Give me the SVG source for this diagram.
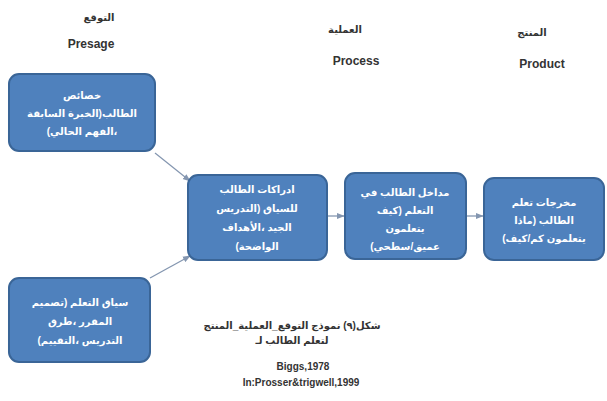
<svg xmlns="http://www.w3.org/2000/svg" width="607" height="401" viewBox="0 0 607 401">
<defs>
<style>
.box{fill:#4f81bd;stroke:#3a6597;stroke-width:2}
.bt{fill:#ffffff;font-family:"Liberation Sans","DejaVu Sans",sans-serif;font-size:10px;font-weight:bold;text-anchor:middle;direction:rtl}
.hd{fill:#333333;font-family:"Liberation Sans","DejaVu Sans",sans-serif;font-size:10px;font-weight:bold;text-anchor:middle}
.he{font-size:12px}
.ar{direction:rtl}
.cn{stroke:#8496b0;stroke-width:1.3;fill:none;marker-end:url(#ah)}
</style>
<marker id="ah" viewBox="0 0 10 10" refX="9" refY="5" markerWidth="6" markerHeight="6" orient="auto">
<path d="M0,1 L10,5 L0,9 z" fill="#8496b0"/>
</marker>
</defs>
<rect width="607" height="401" fill="#ffffff"/>
<g id="headers">
<text class="hd ar" x="99" y="21">التوقع</text>
<text class="hd he" x="91" y="48">Presage</text>
<text class="hd ar" x="345" y="33">العملية</text>
<text class="hd he" x="356" y="65">Process</text>
<text class="hd ar" x="532" y="36">المنتج</text>
<text class="hd he" x="542" y="68">Product</text>
</g>
<g id="connectors">
<line class="cn" x1="155" y1="153" x2="190" y2="181"/>
<line class="cn" x1="150" y1="278" x2="190" y2="256"/>
<line class="cn" x1="327" y1="216" x2="344" y2="216"/>
<line class="cn" x1="466" y1="216" x2="483" y2="216"/>
</g>
<g id="n1">
<rect class="box" x="9" y="74" width="146" height="77" rx="10"/>
<text class="bt" x="82" y="99">خصائص</text>
<text class="bt" x="82" y="117">الطالب(الخبرة السابقة</text>
<text class="bt" x="82" y="135">،الفهم الحالي)</text>
</g>
<g id="n2">
<rect class="box" x="9" y="278" width="141" height="84" rx="10"/>
<text class="bt" x="80" y="306">سياق التعلم (تصميم</text>
<text class="bt" x="80" y="325">المقرر ،طرق</text>
<text class="bt" x="80" y="344">التدريس ،التقييم)</text>
</g>
<g id="n3">
<rect class="box" x="188" y="175" width="139" height="85" rx="10"/>
<text class="bt" x="257" y="193">ادراكات الطالب</text>
<text class="bt" x="257" y="212">للسياق (التدريس</text>
<text class="bt" x="257" y="231">الجيد ،الأهداف</text>
<text class="bt" x="257" y="250">الواضحة)</text>
</g>
<g id="n4">
<rect class="box" x="345" y="173" width="121" height="86" rx="10"/>
<text class="bt" x="405" y="196">مداخل الطالب في</text>
<text class="bt" x="405" y="214">التعلم (كيف</text>
<text class="bt" x="405" y="232">يتعلمون</text>
<text class="bt" x="405" y="250">عميق/سطحي)</text>
</g>
<g id="n5">
<rect class="box" x="484" y="178" width="120" height="82" rx="10"/>
<text class="bt" x="544" y="206">مخرجات تعلم</text>
<text class="bt" x="544" y="224">الطالب (ماذا</text>
<text class="bt" x="544" y="242">يتعلمون  كم/كيف)</text>
</g>
<g id="caption">
<text class="hd ar" x="292" y="329">شكل(٩) نموذج التوقع_العملية_المنتج</text>
<text class="hd ar" x="292" y="344">لتعلم الطالب لـ</text>
<text class="hd" x="303" y="370">Biggs,1978</text>
<text class="hd" x="301" y="386">In:Prosser&amp;trigwell,1999</text>
</g>
</svg>
